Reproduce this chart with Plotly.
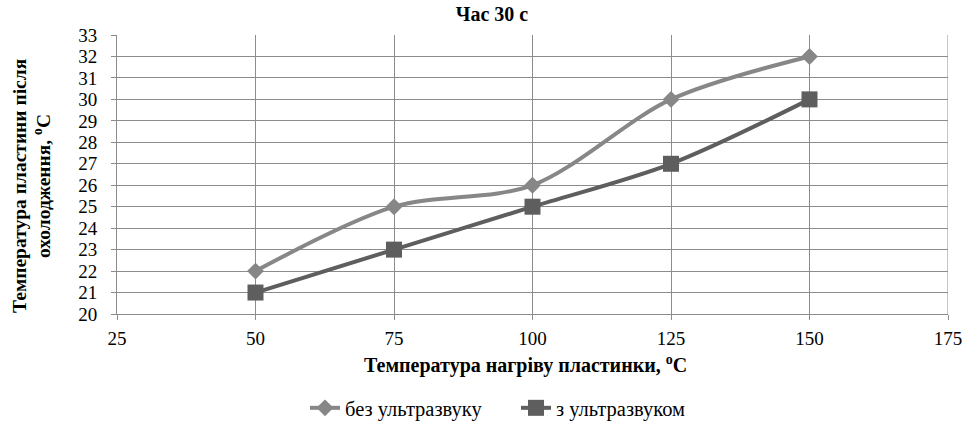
import plotly.graph_objects as go

x_vals = [50, 75, 100, 125, 150]
bez_uz = [22, 25, 26, 30, 32]
z_uz = [21, 23, 25, 27, 30]

title_text = "Час 30 с"
x_title = "Температура нагріву пластинки, <sup>o</sup>C"
y_title_lines = ["Температура пластини після", "охолодження, <sup>o</sup>C"]
names = ["без ультразвуку", "з ультразвуком"]

FONT = "Liberation Serif"
GRID = "#8c8c8c"

fig = go.Figure()
fig.add_trace(go.Scatter(
    x=x_vals, y=bez_uz, name=names[0], mode="lines+markers",
    line=dict(color="#878787", width=4, shape="spline", smoothing=0.9),
    marker=dict(symbol="diamond", size=13, color="#878787"),
))
fig.add_trace(go.Scatter(
    x=x_vals, y=z_uz, name=names[1], mode="lines+markers",
    line=dict(color="#5e5e5e", width=4, shape="spline", smoothing=0.9),
    marker=dict(symbol="square", size=16, color="#5e5e5e"),
))

L, R, T, B = 117, 948, 35, 314
W, H = 966, 423
pw, ph = R - L, B - T

fig.update_layout(
    width=W, height=H,
    margin=dict(l=L, r=W - R, t=T, b=H - B, autoexpand=False),
    paper_bgcolor="white", plot_bgcolor="white",
    font=dict(family=FONT, size=19, color="#000000"),
    title=dict(text="<b>" + title_text + "</b>", x=(492 - L) / pw, xref="paper", xanchor="center",
               y=1 - 14 / H, yanchor="middle", font=dict(size=20, family=FONT)),
    showlegend=True,
    legend=dict(orientation="h", x=(305 - L) / pw, xanchor="left", y=(B - 408) / ph, yanchor="middle",
                font=dict(size=20.5, family=FONT), entrywidth=166, entrywidthmode="pixels",
                tracegroupgap=0),
)
fig.update_xaxes(
    range=[25, 175], tickvals=[25, 50, 75, 100, 125, 150, 175],
    showgrid=True, gridcolor=GRID, gridwidth=1,
    showline=True, linecolor=GRID, linewidth=1, mirror=False,
    ticks="outside", ticklen=5, tickcolor=GRID,
    tickfont=dict(size=19, family=FONT), ticklabelstandoff=2,
    zeroline=False, automargin=False,
)
fig.update_yaxes(
    range=[20, 33], dtick=1,
    showgrid=True, gridcolor=GRID, gridwidth=1,
    showline=True, linecolor=GRID, linewidth=1,
    ticks="outside", ticklen=5, tickcolor=GRID,
    tickfont=dict(size=19, family=FONT), ticklabelstandoff=10,
    zeroline=False, automargin=False,
)
# right border line at x=175
fig.add_shape(type="line", xref="x", yref="paper", x0=175, x1=175, y0=0, y1=1,
              line=dict(color=GRID, width=1))

# axis titles
fig.add_annotation(text="<b>" + x_title + "</b>", xref="paper", yref="paper",
                   x=(525 - L) / pw, y=(B - 364) / ph, xanchor="center", yanchor="middle",
                   showarrow=False, font=dict(size=20, family=FONT))
for cx, cy, line in zip([19, 42], [186, 186], y_title_lines):
    fig.add_annotation(text="<b>" + line + "</b>", xref="paper", yref="paper",
                       x=(cx - L) / pw, y=(B - cy) / ph, xanchor="center", yanchor="middle",
                       textangle=-90, showarrow=False, font=dict(size=19.5, family=FONT))

fig.write_html("out.html", config={"displayModeBar": False},
               post_script="document.body.style.margin='0px';")
